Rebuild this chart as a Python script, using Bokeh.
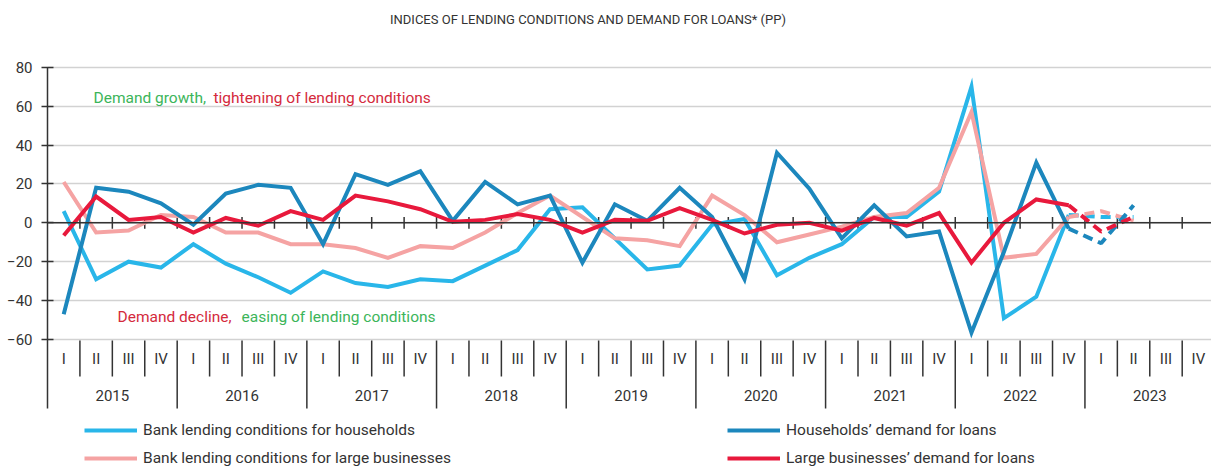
from bokeh.plotting import figure
from bokeh.models import Range1d, FixedTicker, Span, Legend, LegendItem
from bokeh.embed import file_html
from bokeh.resources import INLINE
from bokeh.core.properties import value

# ---------------- data ----------------
title_text = "INDICES OF LENDING CONDITIONS AND DEMAND FOR LOANS* (PP)"
years = ["2015", "2016", "2017", "2018", "2019", "2020", "2021", "2022", "2023"]
quarters = ["I", "II", "III", "IV"]

label_hh_cond = "Bank lending conditions for households"
label_biz_cond = "Bank lending conditions for large businesses"
label_hh_dem = "Households\u2019 demand for loans"
label_biz_dem = "Large businesses\u2019 demand for loans"

# 2015 Q1 .. 2022 Q4 (actual)
hh_cond = [6, -29, -20, -23, -11, -21, -28, -36, -25, -31, -33, -29, -30, -22, -14, 7,
           8, -8, -24, -22, -1, 2, -27, -18, -11, 3, 3, 16, 70, -49, -38, 4]
biz_cond = [21, -5, -4, 4, 3, -5, -5, -11, -11, -13, -18, -12, -13, -5, 5, 14,
            3, -8, -9, -12, 14, 4, -10, -6, -2, 3, 5, 18, 57, -18, -16, 3]
hh_dem = [-47, 18, 16, 10, -1, 15, 19.5, 18, -11, 25, 19.5, 26.5, 1, 21, 9.5, 14,
          -20.5, 9.5, 1, 18, 3, -29, 36, 17.5, -8, 9, -7, -4.5, -56.5, -15, 31, -3]
biz_dem = [-6.5, 13.5, 1.5, 3, -5, 2.5, -1.5, 6, 1.5, 14, 11, 7, 0.5, 1.5, 4.5, 1.5,
           -5, 1.5, 1, 7.5, 1.5, -5.5, -1, 0, -4, 2.5, -1.5, 5, -20.5, 0, 12, 9]

# expectations: 2022 Q4 (last actual), 2023 Q1, 2023 Q2
hh_cond_exp = [4, 3, 3]
biz_cond_exp = [3, 6, 1]
hh_dem_exp = [-3, -10.5, 9]
biz_dem_exp = [9, -4.5, 3]

note_up = ["Demand growth,", "tightening of lending conditions"]
note_down = ["Demand decline,", "easing of lending conditions"]

# ---------------- styles ----------------
C_LB = "#29b6e9"
C_PK = "#f5a3a3"
C_DB = "#1c87bd"
C_RD = "#e8193c"
C_GREEN = "#3cb55a"
C_REDTXT = "#d42a3c"
C_TXT = "#333333"
FONT = "Roboto"

# ---------------- geometry (page px -> data) ----------------
W, H = 1211, 468
LEFT = 47               # frame left at page x 47
SLOT = 32.42            # px per quarter
PX = 1.945              # px per index point
ZERO_PAGE = 222.3       # page y of value 0


def yv(page_y):
    return (ZERO_PAGE - page_y) / PX


def xv(page_x):
    return (page_x - LEFT) / SLOT


n_slots = len(years) * len(quarters)

p = figure(width=W, height=H, output_backend="svg", toolbar_location=None,
           x_range=Range1d(0, (W - LEFT) / SLOT),
           y_range=Range1d(yv(H), yv(0)),
           x_axis_location=None,
           min_border_left=LEFT, min_border_right=0,
           min_border_top=0, min_border_bottom=0)
p.outline_line_color = None
p.background_fill_color = "white"
p.border_fill_color = "white"
p.xgrid.grid_line_color = None

ticks = list(range(-60, 81, 20))
p.yaxis.ticker = FixedTicker(ticks=ticks)
p.yaxis.bounds = (yv(408), 80)
p.yaxis.axis_line_color = C_TXT
p.yaxis.axis_line_width = 1.5
p.yaxis.major_tick_line_color = C_TXT
p.yaxis.major_tick_line_width = 1.5
p.yaxis.major_tick_in = 6
p.yaxis.major_tick_out = 6
p.yaxis.minor_tick_line_color = None
p.yaxis.major_label_text_font = FONT
p.yaxis.major_label_text_font_size = "15px"
p.yaxis.major_label_text_color = C_TXT
p.yaxis.major_label_standoff = 9

p.ygrid.ticker = FixedTicker(ticks=ticks)
p.ygrid.grid_line_color = "#d2d2d2"
p.ygrid.grid_line_width = 1.5

# zero line with quarter ticks
p.add_layout(Span(location=0, dimension="width", line_color=C_TXT, line_width=1.5))
bounds_all = list(range(1, n_slots + 1))
p.segment(x0=bounds_all, x1=bounds_all, y0=[-3] * len(bounds_all), y1=[3] * len(bounds_all),
          line_color=C_TXT, line_width=1.5)

# category axis separators
q_b = [b for b in bounds_all if b % len(quarters) != 0]
y_b = [b for b in bounds_all if b % len(quarters) == 0]
p.segment(x0=q_b, x1=q_b, y0=[yv(340)] * len(q_b), y1=[yv(376)] * len(q_b),
          line_color=C_TXT, line_width=1.5)
p.segment(x0=y_b, x1=y_b, y0=[yv(340)] * len(y_b), y1=[yv(408)] * len(y_b),
          line_color=C_TXT, line_width=1.5)

# category labels
q_x = [i + 0.5 for i in range(n_slots)]
q_t = [quarters[i % len(quarters)] for i in range(n_slots)]
p.text(x=q_x, y=[yv(358)] * n_slots, text=q_t, text_align="center", text_baseline="middle",
       text_font=value(FONT), text_font_size="15px", text_color=C_TXT)
y_x = [i * len(quarters) + len(quarters) / 2 for i in range(len(years))]
p.text(x=y_x, y=[yv(395)] * len(years), text=years, text_align="center", text_baseline="middle",
       text_font=value(FONT), text_font_size="15px", text_color=C_TXT)


# series
def xs_for(series):
    return [i + 0.5 for i in range(len(series))]


def xs_exp(series, exp):
    start = len(series) - 1
    return [start + k + 0.5 for k in range(len(exp))]


renderers = {}
for name, ser, exp, col in [("lb", hh_cond, hh_cond_exp, C_LB),
                            ("pk", biz_cond, biz_cond_exp, C_PK),
                            ("db", hh_dem, hh_dem_exp, C_DB),
                            ("rd", biz_dem, biz_dem_exp, C_RD)]:
    r = p.line(xs_for(ser), ser, line_color=col, line_width=4, line_join="miter")
    p.line(xs_exp(ser, exp), exp, line_color=col, line_width=4, line_dash="10 6")
    renderers[name] = r

# annotations
NOTE_SIZE = "15.5px"
p.text(x=[xv(93)], y=[yv(97)], text=[note_up[0]], text_color=C_GREEN, text_font=value(FONT),
       text_font_size=NOTE_SIZE, text_baseline="middle", text_align="left")
p.text(x=[xv(213)], y=[yv(97)], text=[note_up[1]], text_color=C_REDTXT, text_font=value(FONT),
       text_font_size=NOTE_SIZE, text_baseline="middle", text_align="left")
p.text(x=[xv(117)], y=[yv(316)], text=[note_down[0]], text_color=C_REDTXT, text_font=value(FONT),
       text_font_size=NOTE_SIZE, text_baseline="middle", text_align="left")
p.text(x=[xv(241)], y=[yv(316)], text=[note_down[1]], text_color=C_GREEN, text_font=value(FONT),
       text_font_size=NOTE_SIZE, text_baseline="middle", text_align="left")

# title
p.text(x=[xv(587.5)], y=[yv(19)], text=[title_text], text_color=C_TXT, text_font=value(FONT),
       text_font_size="13px", text_baseline="middle", text_align="center")


# legends
def make_legend(items, xloc):
    return Legend(items=items, location=(xloc, 0), orientation="vertical",
                  glyph_width=53, glyph_height=20, label_height=20, spacing=8,
                  padding=0, margin=0, label_standoff=6,
                  border_line_alpha=0, background_fill_alpha=0,
                  label_text_font=FONT, label_text_font_size="15.5px",
                  label_text_color=C_TXT)


leg1 = make_legend([LegendItem(label=label_hh_cond, renderers=[renderers["lb"]]),
                    LegendItem(label=label_biz_cond, renderers=[renderers["pk"]])], 84 - LEFT)
leg2 = make_legend([LegendItem(label=label_hh_dem, renderers=[renderers["db"]]),
                    LegendItem(label=label_biz_dem, renderers=[renderers["rd"]])], 727 - LEFT)
p.add_layout(leg1)
p.add_layout(leg2)

open("out.html", "w").write(file_html(p, INLINE))
